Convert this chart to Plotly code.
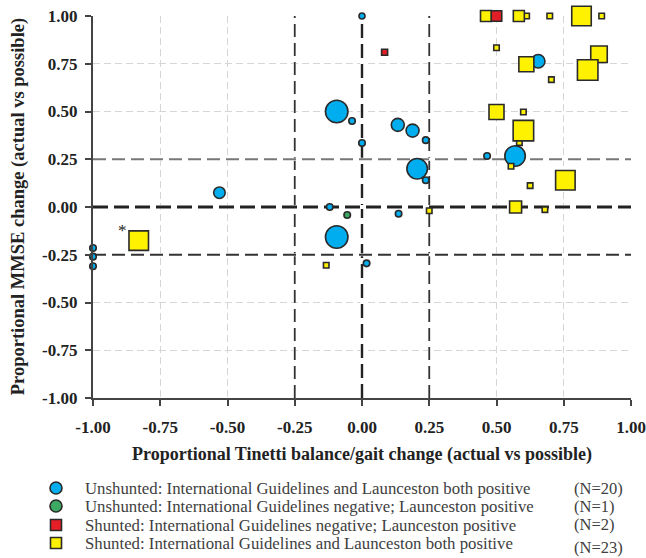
import plotly.graph_objects as go

# ---- data ----
blue_x = [0.0, -0.094, -0.037, 0.0, -0.53, -0.12, -1.0, -1.0, -1.0, -0.094,
          0.133, 0.188, 0.237, 0.205, 0.237, 0.465, 0.569, 0.655, 0.136, 0.017]
blue_y = [1.0, 0.50, 0.45, 0.335, 0.075, 0.0, -0.215, -0.26, -0.31, -0.157,
          0.43, 0.40, 0.35, 0.20, 0.14, 0.267, 0.267, 0.763, -0.035, -0.295]
blue_w = [6, 22.5, 6.5, 6.5, 11.5, 6.5, 6.5, 6.5, 6.5, 22.5,
          13, 13, 6.5, 20.5, 6.5, 6.5, 20.5, 13.5, 6.5, 6.5]

green_x = [-0.055]
green_y = [-0.042]
green_w = [6.5]

red_x = [0.084, 0.50]
red_y = [0.81, 1.0]
red_w = [6, 10.5]

yellow_x = [0.461, 0.612, 0.583, 0.698, 0.816, 0.891, 0.50, 0.881, 0.839,
            0.611, 0.704, 0.50, 0.60, 0.585, 0.60, 0.554, 0.756, 0.625,
            0.571, 0.68, 0.25, -0.133, -0.83]
yellow_y = [1.0, 1.0, 1.0, 1.0, 1.0, 1.0, 0.834, 0.80, 0.717,
            0.747, 0.667, 0.497, 0.497, 0.337, 0.40, 0.213, 0.14, 0.112,
            0.0, -0.014, -0.02, -0.305, -0.176]
yellow_w = [11, 5.5, 11, 5.5, 19.5, 5.5, 5.5, 16.5, 20.5,
            15, 5.5, 15, 5.5, 5.5, 20.5, 5.5, 19.5, 5.5,
            12, 5.5, 5.5, 5.5, 19.5]

ticks = [-1.0, -0.75, -0.5, -0.25, 0.0, 0.25, 0.5, 0.75, 1.0]
tick_labels = ["-1.00", "-0.75", "-0.50", "-0.25", "0.00", "0.25", "0.50", "0.75", "1.00"]

legend_labels = [
    "Unshunted: International Guidelines and Launceston both positive",
    "Unshunted: International Guidelines negative; Launceston positive",
    "Shunted: International Guidelines negative; Launceston positive",
    "Shunted: International Guidelines and Launceston both positive",
]
legend_counts = ["(N=20)", "(N=1)", "(N=2)", "(N=23)"]

BLUE = "#00AEEF"
GREEN = "#3DAA63"
RED = "#E41E26"
YELLOW = "#FFF200"
EDGE = "#2a2a2a"
SERIF = "Liberation Serif"

fig = go.Figure()

def add(xs, ys, ws, color, symbol):
    fig.add_trace(go.Scatter(
        x=xs, y=ys, mode="markers", cliponaxis=False, showlegend=False,
        marker=dict(size=ws, color=color, symbol=symbol, opacity=1,
                    line=dict(color=EDGE, width=1.6)),
    ))

add(blue_x, blue_y, blue_w, BLUE, "circle")
add(green_x, green_y, green_w, GREEN, "circle")
add(yellow_x, yellow_y, yellow_w, YELLOW, "square")
add(red_x, red_y, red_w, RED, "square")

# reference dashed lines (white underlay hides the light grid in the gaps)
def hline(y, color, width, dash="13px,6px"):
    fig.add_shape(type="line", xref="x", yref="y", x0=-1, x1=1, y0=y, y1=y,
                  line=dict(color="white", width=width + 1), layer="between")
    fig.add_shape(type="line", xref="x", yref="y", x0=-1, x1=1, y0=y, y1=y,
                  line=dict(color=color, width=width, dash=dash), layer="between")

def vline(x, color, width, dash="13px,6px"):
    fig.add_shape(type="line", xref="x", yref="y", x0=x, x1=x, y0=-1, y1=1.0,
                  line=dict(color="white", width=width + 1), layer="between")
    fig.add_shape(type="line", xref="x", yref="y", x0=x, x1=x, y0=-1, y1=1.02,
                  line=dict(color=color, width=width, dash=dash), layer="between")

vline(-0.25, "#333333", 1.8)
vline(0.25, "#333333", 1.8)
vline(0.0, "#222222", 2.4, "14px,6px")
hline(0.25, "#777777", 1.8)
hline(-0.25, "#333333", 1.8)
hline(0.0, "#222222", 3, "15px,6px")

fig.add_annotation(x=-0.89, y=-0.125, xref="x", yref="y", text="*", showarrow=False,
                   font=dict(family=SERIF, size=17, color="#222"))

# axis titles
fig.add_annotation(x=0.5, y=-0.149, xref="paper", yref="paper",
                   text="Proportional Tinetti balance/gait change (actual vs possible)",
                   showarrow=False, xanchor="center", yanchor="middle",
                   font=dict(family=SERIF, size=18, color="#222", weight="bold"))
fig.add_annotation(x=-0.139, y=0.5, xref="paper", yref="paper", textangle=-90,
                   text="Proportional MMSE change (actual vs possible)",
                   showarrow=False, xanchor="center", yanchor="middle",
                   font=dict(family=SERIF, size=18.5, color="#222", weight="bold"))

# manual legend (pixel -> paper)
L, R, T, B = 93, 631, 16, 398
def px(xp):
    return (xp - L) / (R - L)
def py(yp):
    return (B - yp) / (B - T)

rows = [488, 506, 525, 543]
count_rows = [488, 506, 524, 547]
colors = [BLUE, GREEN, RED, YELLOW]
kinds = ["circle", "circle", "rect", "rect"]
for i in range(4):
    cy = rows[i]
    h = 6 if kinds[i] == "circle" else 5.5
    fig.add_shape(type=kinds[i], xref="paper", yref="paper",
                  x0=px(56 - h), x1=px(56 + h), y0=py(cy + h), y1=py(cy - h),
                  fillcolor=colors[i], line=dict(color=EDGE, width=1.6))
    fig.add_annotation(x=px(84), y=py(cy), xref="paper", yref="paper",
                       text=legend_labels[i], showarrow=False,
                       xanchor="left", yanchor="middle", borderpad=0,
                       font=dict(family=SERIF, size=16.8, color="#404040"))
    fig.add_annotation(x=px(573), y=py(count_rows[i]), xref="paper", yref="paper",
                       text=legend_counts[i], showarrow=False,
                       xanchor="left", yanchor="middle", borderpad=0,
                       font=dict(family=SERIF, size=16.5, color="#404040"))

axis_common = dict(
    range=[-1, 1], tickvals=ticks, ticktext=tick_labels, automargin=False,
    showgrid=True, gridcolor="#d6d6d6", griddash="7px,4px", gridwidth=1.2,
    zeroline=False, showline=True, linecolor="#444444", linewidth=2.2,
    ticks="outside", ticklen=6, tickwidth=1.6, tickcolor="#444444",
    tickfont=dict(family=SERIF, size=17, color="#222", weight="bold"),
)

fig.update_layout(
    width=646, height=558,
    margin=dict(l=93, r=15, t=16, b=160, pad=0),
    plot_bgcolor="white", paper_bgcolor="white",
    xaxis=dict(**axis_common, ticklabelstandoff=6),
    yaxis=dict(**axis_common, ticklabelstandoff=4),
    showlegend=False,
)

fig.write_html("out.html", config={"displayModeBar": False},
               post_script="document.body.style.margin='0px';")
